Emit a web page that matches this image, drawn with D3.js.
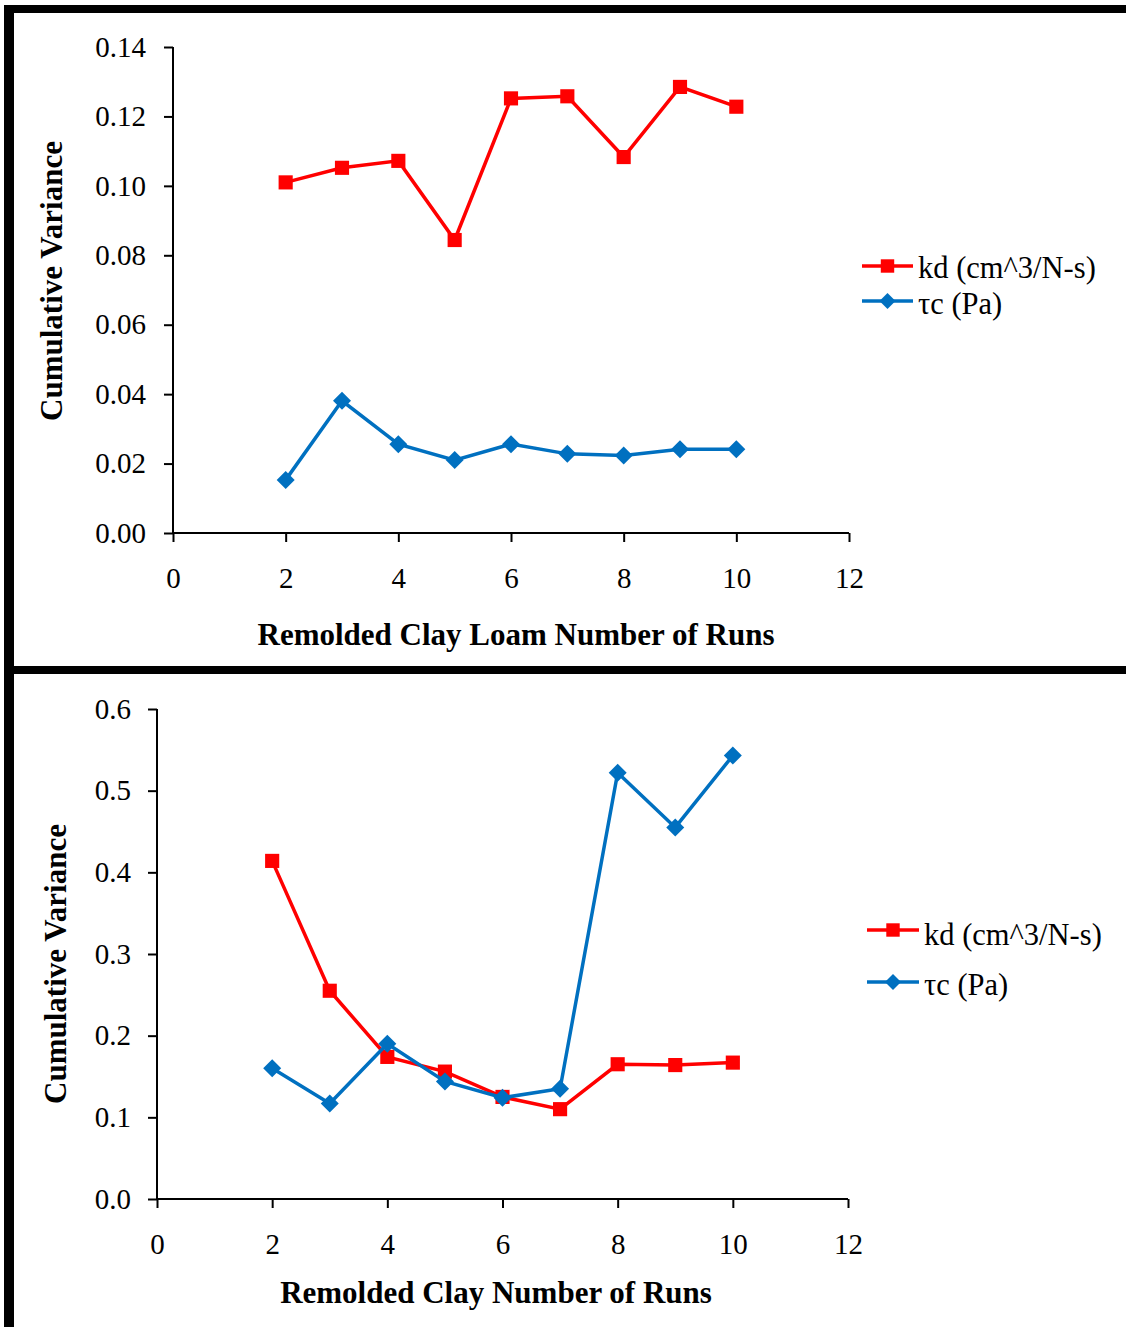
<!DOCTYPE html>
<html><head><meta charset="utf-8">
<script src="https://cdn.jsdelivr.net/npm/d3@7"></script>
<style>body{margin:0;background:#fff}svg{display:block}</style>
</head><body>
<script>
const runs = [2,3,4,5,6,7,8,9,10];
const loamKd  = [0.1010,0.1052,0.1072,0.0844,0.1252,0.1258,0.1083,0.1285,0.1228];
const loamTau = [0.0153,0.0381,0.0256,0.0210,0.0256,0.0228,0.0223,0.0241,0.0241];
const clayKd  = [0.414,0.255,0.174,0.156,0.125,0.110,0.165,0.164,0.167];
const clayTau = [0.160,0.117,0.190,0.144,0.124,0.135,0.522,0.455,0.543];
const xTicks = [0,2,4,6,8,10,12];
const loamYTicks = [0,0.02,0.04,0.06,0.08,0.10,0.12,0.14];
const clayYTicks = [0,0.1,0.2,0.3,0.4,0.5,0.6];
const seriesNames = ["kd (cm^3/N-s)","\u03c4c (Pa)"];
const xTitles = ["Remolded Clay Loam Number of Runs","Remolded Clay Number of Runs"];
const yTitle = "Cumulative Variance";

const W=1126,H=1327;
const svg=d3.select("body").append("svg").attr("width",W).attr("height",H);
svg.append("rect").attr("width",W).attr("height",H).attr("fill","#fff");
// frame bars
svg.append("rect").attr("x",4).attr("y",5).attr("width",W-4).attr("height",8).attr("fill","#000");
svg.append("rect").attr("x",4).attr("y",5).attr("width",10).attr("height",H-5).attr("fill","#000");
svg.append("rect").attr("x",4).attr("y",666).attr("width",W-4).attr("height",8).attr("fill","#000");

const FONT="'Liberation Serif','Times New Roman',serif";
const RED="#FF0000", BLUE="#0070C0";

function diamond(r){return `M0,${-r}L${r},0L0,${r}L${-r},0Z`;}

function panel(cfg){
  const x=d3.scaleLinear().domain([0,12]).range([cfg.x0,cfg.x1]);
  const y=d3.scaleLinear().domain([0,cfg.ymax]).range([cfg.y0,cfg.y1]);
  const g=svg.append("g");
  const ya=g.append("g").attr("transform",`translate(${cfg.x0},0)`)
    .call(d3.axisLeft(y).tickValues(cfg.yTicks).tickSize(9).tickPadding(cfg.yPad).tickFormat(d3.format(cfg.yFmt)));
  const xa=g.append("g").attr("transform",`translate(0,${cfg.y0})`)
    .call(d3.axisBottom(x).tickValues(xTicks).tickSize(9).tickPadding(cfg.xPad).tickFormat(d3.format("d")));
  [ya,xa].forEach(a=>{
    a.select(".domain").attr("stroke","#000").attr("stroke-width",2);
    a.selectAll(".tick line").attr("stroke","#000").attr("stroke-width",2);
    a.selectAll("text").attr("font-family",FONT).attr("font-size",29).attr("fill","#000");
  });
  ya.select(".domain").attr("d",`M0,${cfg.y0}V${cfg.y1}`);
  xa.select(".domain").attr("d",`M${cfg.x0},0H${cfg.x1}`);

  const line=d3.line().x((d,i)=>x(runs[i])).y(d=>y(d));
  const series=[{v:cfg.kd,c:RED,m:"sq"},{v:cfg.tau,c:BLUE,m:"di"}];
  series.forEach(s=>{
    g.append("path").datum(s.v).attr("d",line).attr("fill","none").attr("stroke",s.c).attr("stroke-width",3.5).attr("stroke-linejoin","miter");
    g.selectAll(null).data(s.v).enter().append("path")
      .attr("d", s.m==="sq" ? d3.symbol(d3.symbolSquare,200)() : diamond(9))
      .attr("transform",(d,i)=>`translate(${x(runs[i])},${y(d)})`).attr("fill",s.c);
  });
  g.append("text").attr("x",cfg.xtx).attr("y",cfg.xty).attr("text-anchor","middle")
    .attr("font-family",FONT).attr("font-weight","bold").attr("font-size",31).text(cfg.xTitle);
  g.append("text").attr("transform",`translate(${cfg.ytx},${cfg.yty}) rotate(-90)`).attr("text-anchor","middle")
    .attr("font-family",FONT).attr("font-weight","bold").attr("font-size",31).text(yTitle);
  cfg.leg.forEach((L,k)=>{
    const c=k===0?RED:BLUE;
    g.append("line").attr("x1",L.lx0).attr("x2",L.lx1).attr("y1",L.ly).attr("y2",L.ly).attr("stroke",c).attr("stroke-width",3.5);
    const cx=(L.lx0+L.lx1)/2;
    g.append("path").attr("d",k===0?d3.symbol(d3.symbolSquare,180)():diamond(8))
      .attr("transform",`translate(${cx},${L.ly})`).attr("fill",c);
    g.append("text").attr("x",L.tx).attr("y",L.ty).attr("font-family",FONT).attr("font-size",30.5).text(seriesNames[k]);
  });
}

panel({x0:173,x1:849,y0:533,y1:47,ymax:0.14,yTicks:loamYTicks,yFmt:".2f",yPad:18,xPad:25,
  kd:loamKd,tau:loamTau,
  xTitle:xTitles[0],xtx:516,xty:645,ytx:62,yty:281,
  leg:[{lx0:862,lx1:913,ly:266,tx:918,ty:278},{lx0:862,lx1:913,ly:301,tx:918,ty:314}]});
panel({x0:157,x1:848,y0:1199,y1:709,ymax:0.6,yTicks:clayYTicks,yFmt:".1f",yPad:17,xPad:25,
  kd:clayKd,tau:clayTau,
  xTitle:xTitles[1],xtx:496,xty:1303,ytx:66,yty:964,
  leg:[{lx0:867,lx1:919,ly:930,tx:924,ty:945},{lx0:867,lx1:919,ly:982,tx:924,ty:995}]});
</script>
</body></html>
